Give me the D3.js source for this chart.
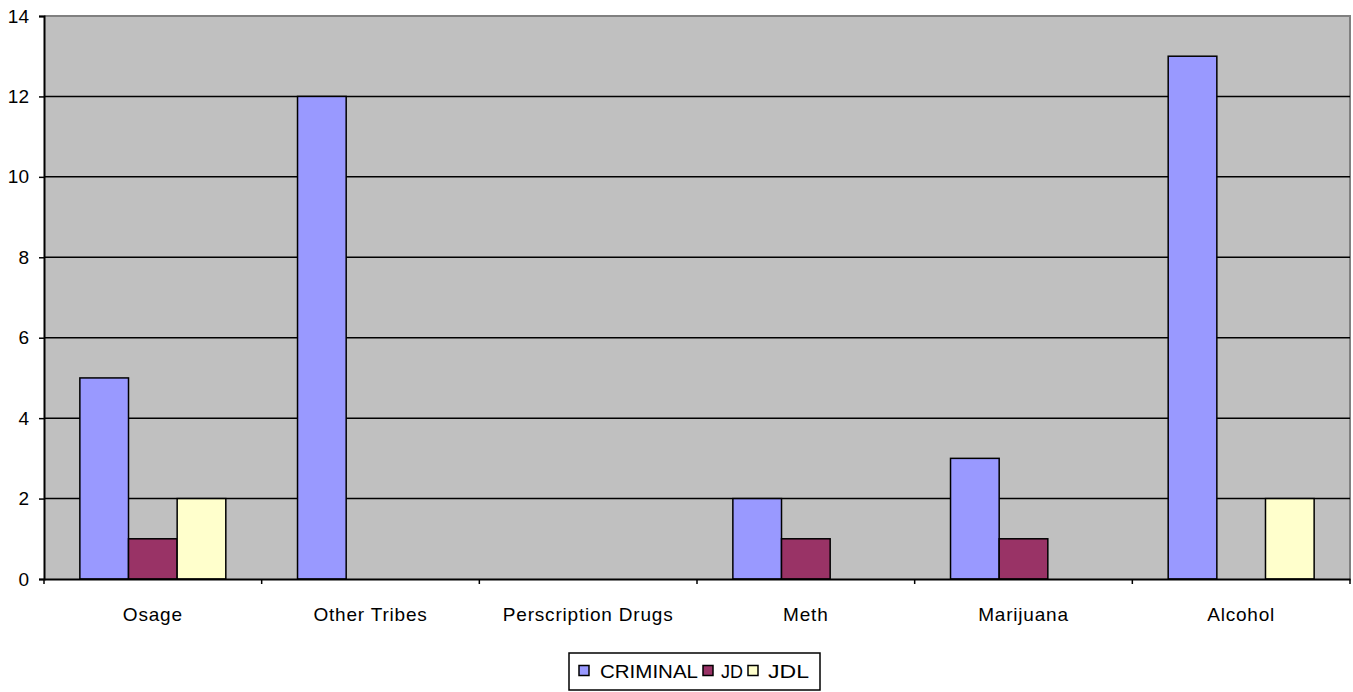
<!DOCTYPE html>
<html>
<head>
<meta charset="utf-8">
<script src="https://cdn.jsdelivr.net/npm/d3@7"></script>
<style>
  body { margin: 0; background: #fff; }
  svg text { font-family: "Liberation Sans", Arial, sans-serif; fill: #000; }
</style>
</head>
<body>
<div id="chart"></div>
<script>
const categories = ["Osage", "Other Tribes", "Perscription Drugs", "Meth", "Marijuana", "Alcohol"];
const seriesNames = ["CRIMINAL", "JD", "JDL"];
const criminal = [5, 12, 0, 2, 3, 13];
const jd = [1, 0, 0, 1, 1, 0];
const jdl = [2, 0, 0, 0, 0, 2];
const yTicks = [0, 2, 4, 6, 8, 10, 12, 14];
const colors = ["#9999FF", "#993366", "#FFFFCC"];

const width = 1353, height = 692;
const plot = { left: 44, right: 1350, top: 16, bottom: 579 };

const svg = d3.select("#chart").append("svg")
  .attr("width", width).attr("height", height);

const x = d3.scaleBand().domain(categories).range([plot.left, plot.right]);
const barW = x.bandwidth() * 0.2235;
const xs = d3.scaleBand().domain(seriesNames)
  .range([x.bandwidth() / 2 - 1.5 * barW, x.bandwidth() / 2 + 1.5 * barW]);
const y = d3.scaleLinear().domain([0, 14]).range([plot.bottom, plot.top]);

// plot background
svg.append("rect")
  .attr("x", plot.left).attr("y", plot.top)
  .attr("width", plot.right - plot.left).attr("height", plot.bottom - plot.top)
  .attr("fill", "#C0C0C0");

// frame top/right (gray)
svg.append("path")
  .attr("d", `M${plot.left},${plot.top}H${plot.right}V${plot.bottom}`)
  .attr("fill", "none").attr("stroke", "#808080").attr("stroke-width", 2);

// gridlines
svg.selectAll(".grid")
  .data(yTicks.filter(d => d > 0 && d < 14))
  .enter().append("line")
  .attr("x1", plot.left).attr("x2", plot.right)
  .attr("y1", d => y(d)).attr("y2", d => y(d))
  .attr("stroke", "#000").attr("stroke-width", 1.5);

// bars
const rows = categories.map((c, i) => ({ cat: c, vals: [criminal[i], jd[i], jdl[i]] }));
const groups = svg.selectAll(".grp").data(rows).enter().append("g")
  .attr("transform", d => `translate(${x(d.cat)},0)`);
groups.selectAll("rect")
  .data(d => d.vals.map((v, j) => ({ name: seriesNames[j], v, j })).filter(e => e.v > 0))
  .enter().append("rect")
  .attr("x", d => xs(d.name))
  .attr("y", d => y(d.v))
  .attr("width", xs.bandwidth())
  .attr("height", d => y(0) - y(d.v))
  .attr("fill", d => colors[d.j])
  .attr("stroke", "#000").attr("stroke-width", 1.5);

// y axis
const yAxis = svg.append("g")
  .attr("transform", `translate(${plot.left},0)`)
  .call(d3.axisLeft(y).tickValues(yTicks).tickSize(5).tickPadding(10).tickFormat(d3.format("d")));
yAxis.select(".domain").attr("stroke", "#000").attr("stroke-width", 2);
yAxis.selectAll(".tick line").attr("stroke", "#000").attr("stroke-width", 1.5);
yAxis.selectAll("text").style("font-size", "19px");

// x axis
const xAxis = svg.append("g")
  .attr("transform", `translate(0,${plot.bottom})`)
  .call(d3.axisBottom(x).tickSize(0));
xAxis.select(".domain").attr("stroke", "#000").attr("stroke-width", 2);
xAxis.selectAll("text")
  .attr("y", 42).attr("dy", null)
  .style("font-size", "19px").style("letter-spacing", "0.8px");
svg.selectAll(".xtick")
  .data(categories.map(c => x(c)).concat([plot.right]))
  .enter().append("line")
  .attr("x1", d => d).attr("x2", d => d)
  .attr("y1", plot.bottom).attr("y2", plot.bottom + 5)
  .attr("stroke", "#000").attr("stroke-width", 1.5);

// legend
const legend = svg.append("g").attr("transform", "translate(569,653)");
legend.append("rect")
  .attr("width", 251).attr("height", 37)
  .attr("fill", "#fff").attr("stroke", "#000").attr("stroke-width", 1.5);
const swatchX = [10, 134, 179];
const labelX = [31, 152, 199];
const labelW = [98, 22, 41];
seriesNames.forEach((name, i) => {
  legend.append("rect")
    .attr("x", swatchX[i]).attr("y", 12.5).attr("width", 10).attr("height", 10)
    .attr("fill", colors[i]).attr("stroke", "#000").attr("stroke-width", 1.5);
  legend.append("text")
    .attr("x", labelX[i]).attr("y", 25)
    .attr("textLength", labelW[i]).attr("lengthAdjust", "spacingAndGlyphs")
    .style("font-size", "19px")
    .text(name);
});
</script>
</body>
</html>
